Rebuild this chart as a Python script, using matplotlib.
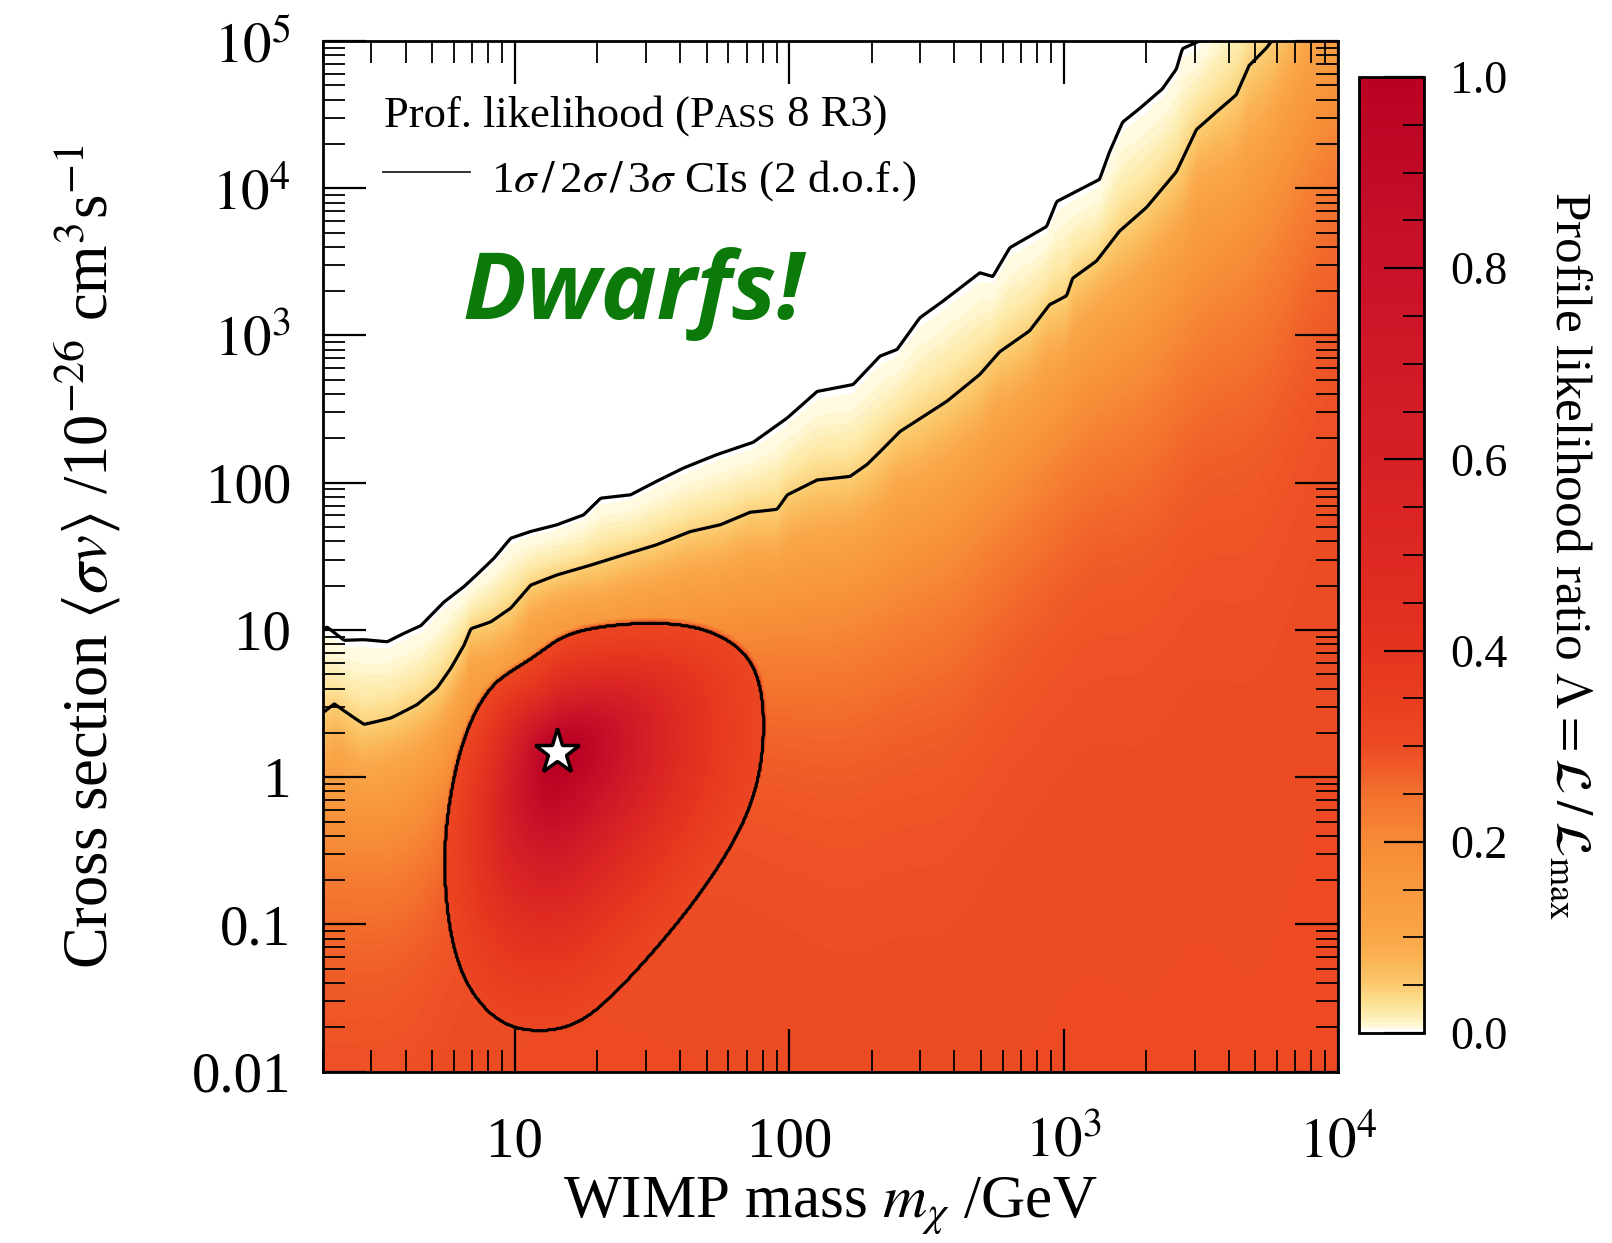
import numpy as np
import matplotlib.pyplot as plt
from matplotlib.colors import LinearSegmentedColormap
from matplotlib.lines import Line2D
from matplotlib.ticker import FixedLocator, FixedFormatter, LogLocator, NullFormatter, MultipleLocator

plt.rcParams['font.family'] = ['Liberation Serif', 'DejaVu Serif']
plt.rcParams['mathtext.fontset'] = 'stix'

# upper edges of the 2 sigma and 3 sigma regions
# (log10 of mass in GeV, log10 of <sigma v> in 1e-26 cm^3/s)
ci2_logm = [0.305, 0.342, 0.451, 0.549, 0.644, 0.716, 0.767, 0.815, 0.84, 0.913, 0.985,
            1.058, 1.153, 1.276, 1.396, 1.516, 1.64, 1.749, 1.858, 1.956, 1.993, 2.102,
            2.222, 2.284, 2.331, 2.404, 2.451, 2.575, 2.695, 2.767, 2.876, 2.949, 3.011,
            3.033, 3.12, 3.204, 3.302, 3.411, 3.484, 3.556, 3.629, 3.676, 3.738, 3.76,
            3.88, 4.05]
ci2_logs = [0.444, 0.50, 0.354, 0.40, 0.49, 0.60, 0.739, 0.898, 1.01, 1.056, 1.147,
            1.306, 1.374, 1.44, 1.51, 1.578, 1.669, 1.714, 1.80, 1.816, 1.918, 2.02,
            2.04, 2.122, 2.21, 2.349, 2.405, 2.553, 2.735, 2.89, 3.03, 3.21, 3.267,
            3.39, 3.505, 3.71, 3.868, 4.109, 4.40, 4.517, 4.63, 4.834, 4.948, 5.0,
            5.45, 5.9]
ci3_logm = [0.30, 0.316, 0.378, 0.451, 0.535, 0.596, 0.658, 0.742, 0.815, 0.862, 0.924,
            0.985, 1.058, 1.153, 1.251, 1.313, 1.422, 1.516, 1.615, 1.735, 1.869, 1.993,
            2.102, 2.233, 2.331, 2.393, 2.476, 2.56, 2.695, 2.742, 2.804, 2.938, 2.975,
            3.131, 3.167, 3.215, 3.276, 3.36, 3.411, 3.433, 3.495, 3.7, 4.05]
ci3_logs = [1.0, 1.02, 0.93, 0.934, 0.92, 0.977, 1.03, 1.19, 1.295, 1.376, 1.487,
            1.623, 1.669, 1.714, 1.782, 1.895, 1.918, 2.009, 2.10, 2.19, 2.275, 2.44,
            2.62, 2.667, 2.86, 2.905, 3.12, 3.233, 3.426, 3.40, 3.596, 3.74, 3.91,
            4.06, 4.245, 4.449, 4.54, 4.675, 4.81, 4.948, 5.0, 5.7, 6.6]
# closed 1 sigma region around the best fit
ci1_logm = [1.469, 1.227, 1.154, 1.081, 0.984, 0.912, 0.827, 0.778, 0.742, 0.736, 0.766,
            0.839, 0.936, 1.033, 1.166, 1.275, 1.396, 1.517, 1.639, 1.760, 1.857, 1.905,
            1.917, 1.893, 1.821, 1.687]
ci1_logs = [1.068, 1.011, 0.943, 0.830, 0.716, 0.648, 0.376, 0.058, -0.350, -0.690, -1.211,
            -1.483, -1.676, -1.733, -1.733, -1.642, -1.415, -1.166, -0.894, -0.576, -0.258,
            0.059, 0.422, 0.739, 0.898, 1.045]
best_m, best_s = 14.3, 1.49

# delta chi^2 of the 1/2/3 sigma levels (2 d.o.f.) and of the no-signal plateau
d1, d2, d3 = 2.30, 6.18, 11.83
d_null = 2.40

x_ticks = [10, 100, 1e3, 1e4]
x_labels = ['10', '100', r'$10^3$', r'$10^4$']
y_ticks = [0.01, 0.1, 1, 10, 100, 1e3, 1e4, 1e5]
y_labels = ['0.01', '0.1', '1', '10', '100', r'$10^3$', r'$10^4$', r'$10^5$']
cb_ticks = [0.0, 0.2, 0.4, 0.6, 0.8, 1.0]

cmap_pos = [0.0, 0.005, 0.015, 0.03, 0.05, 0.075, 0.10, 0.15, 0.20, 0.25, 0.30, 0.35,
            0.40, 0.50, 0.60, 0.70, 0.80, 0.90, 1.0]
cmap_col = ['#ffffff', '#fff8d8', '#feeeb4', '#fde094', '#fbc86c', '#fab454', '#f9a648',
            '#f8993e', '#f68a36', '#f3702e', '#ed4a23', '#e93d20', '#e4341f', '#de2822',
            '#d72025', '#d01927', '#c91228', '#c10a27', '#b90022']
cmap = LinearSegmentedColormap.from_list('lik', list(zip(cmap_pos, cmap_col)))


def smooth(y, n, mode='edge'):
    k = np.exp(-0.5 * (np.arange(-3 * n, 3 * n + 1) / n) ** 2)
    k /= k.sum()
    return np.convolve(np.pad(y, 3 * n, mode=mode), k, mode='valid')


# likelihood surface
lm = np.linspace(np.log10(2), 4, 800)
ls = np.linspace(-2.1, 5.3, 900)
LM, LS = np.meshgrid(lm, ls)

ratio = np.log((d3 - d_null) / (d2 - d_null))
u2 = np.interp(lm, ci2_logm, ci2_logs)
u3 = np.interp(lm, ci3_logm, ci3_logs)
u2s, u3s = smooth(u2, 22), smooth(u3, 22)
z_ex = ratio / (u3 - u2) * (LS - u2)
z_sm = ratio / (u3s - u2s) * (LS - u2s)
w = 1 / (1 + np.exp(-5 * (z_sm + 0.6)))
f_bg = d_null + (d2 - d_null) * np.exp(w * z_ex + (1 - w) * z_sm)

# 1 sigma bump: radial distance scaled to the (rounded) outline read above
aspect = 1.87
pm = np.array(ci1_logm + ci1_logm[:1])
ps = np.array(ci1_logs + ci1_logs[:1])
tt = np.linspace(0, 1, 20, endpoint=False)
pm = smooth(np.concatenate([a + (b - a) * tt for a, b in zip(pm[:-1], pm[1:])]), 12, 'wrap')
ps = smooth(np.concatenate([a + (b - a) * tt for a, b in zip(ps[:-1], ps[1:])]), 12, 'wrap')
px = (pm - np.log10(best_m)) * aspect
py = ps - np.log10(best_s)
th_p = np.arctan2(py, px)
r_p = np.hypot(px, py)
order = np.argsort(th_p)

bx = (LM - np.log10(best_m)) * aspect
by = LS - np.log10(best_s)
R = np.interp(np.arctan2(by, bx), th_p[order], r_p[order], period=2 * np.pi)
rho = np.hypot(bx, by) / R
k_in = 2.5
inner = d1 * (1 - np.exp(-k_in * rho**2)) / (1 - np.exp(-k_in))
lam_b = np.where(rho <= 1, np.exp(-inner / 2), np.exp(-d1 / 2 * rho**10))

lam = np.maximum(np.exp(-f_bg / 2), lam_b)
dchi = -2 * np.log(np.maximum(lam, 1e-300))

fig = plt.figure(figsize=(16.12, 12.43), dpi=100)
W, H = 1612, 1243
ax = fig.add_axes([323 / W, 1 - 1071.7 / H, (1338 - 323) / W, (1071.7 - 41) / H])

M, S = 10**LM, 10**LS
pcm = ax.pcolormesh(M, S, lam, cmap=cmap, vmin=0, vmax=1, shading='auto', rasterized=True)
ax.contour(M, S, dchi, levels=[d1, d2, d3], colors='k', linewidths=2.3)
ax.plot([best_m], [best_s], marker='*', ms=34, mfc='white', mec='black', mew=2.5, zorder=5)

ax.set_xscale('log')
ax.set_yscale('log')
ax.set_xlim(2, 1e4)
ax.set_ylim(0.01, 1e5)

ax.xaxis.set_major_locator(FixedLocator(x_ticks))
ax.xaxis.set_major_formatter(FixedFormatter(x_labels))
ax.yaxis.set_major_locator(FixedLocator(y_ticks))
ax.yaxis.set_major_formatter(FixedFormatter(y_labels))
for axis in (ax.xaxis, ax.yaxis):
    axis.set_minor_locator(LogLocator(base=10, subs=np.arange(2, 10), numticks=30))
    axis.set_minor_formatter(NullFormatter())

ax.tick_params(which='both', direction='in', top=True, right=True)
ax.tick_params(which='major', length=31, width=1.6, labelsize=41)
ax.tick_params(which='minor', length=16, width=1.3)
ax.tick_params(axis='y', pad=23)
ax.tick_params(axis='x', pad=61)
for t in ax.get_xticklabels():
    t.set_va('baseline')
for sp in ax.spines.values():
    sp.set_linewidth(2)

ax.set_xlabel(r'WIMP mass $m_\chi$ /GeV', fontsize=44)
ax.xaxis.label.set_va('baseline')
ax.xaxis.set_label_coords(0.5, -(1218 - 1071.7) / 1030.7)
ax.set_ylabel(r'Cross section $\langle\sigma v\rangle$ /10$^{-26}$ cm$^3$s$^{-1}$', fontsize=45)
ax.yaxis.label.set_va('center')
ax.yaxis.set_label_coords((87 - 323) / 1015, 0.5)

# colorbar
cax = fig.add_axes([1359 / W, 1 - 1033 / H, 65 / W, 956 / H])
cb = fig.colorbar(pcm, cax=cax)
cb.set_ticks(cb_ticks)
cb.set_ticklabels(['%.1f' % v for v in cb_ticks])
cax.yaxis.set_minor_locator(MultipleLocator(0.05))
cax.tick_params(which='both', direction='in', right=True)
cax.tick_params(which='major', length=29, width=1.6, labelsize=33, pad=19)
cax.tick_params(which='minor', length=15, width=1.3)
cb.outline.set_linewidth(2)
cb.set_label(r'Profile likelihood ratio $\Lambda = \mathcal{L}\,/\,\mathcal{L}_\mathrm{max}$',
             fontsize=37, rotation=270)
cax.yaxis.label.set_va('center')
cax.yaxis.set_label_coords((1568 - 1359) / 65, 0.5)

# legend block and tag
fig.text(463 / W, 1 - 319 / H, 'Dwarfs!', fontsize=68, fontweight='bold', fontstyle='italic',
         color='#0b7a0b', family=['Open Sans', 'Lato', 'DejaVu Sans'], va='baseline')

y1 = 1 - 127 / H
t1 = fig.text(384 / W, y1, 'Prof. likelihood (P', fontsize=32, va='baseline')
rend = fig.canvas.get_renderer()
x2 = t1.get_window_extent(rend).x1
t2 = fig.text(x2 / W, y1, 'ASS', fontsize=24, va='baseline')
x3 = t2.get_window_extent(rend).x1
fig.text(x3 / W, y1, ' 8 R3)', fontsize=32, va='baseline')

fig.add_artist(Line2D([383 / W, 470 / W], [1 - 172 / H] * 2, color='#222222', lw=1.3,
                      transform=fig.transFigure))
fig.text(491 / W, 1 - 192 / H, r'1$\sigma\,/\,$2$\sigma\,/\,$3$\sigma$ CIs (2 d.o.f.)',
         fontsize=32.5, va='baseline')

fig.savefig('out.png', dpi=100)
